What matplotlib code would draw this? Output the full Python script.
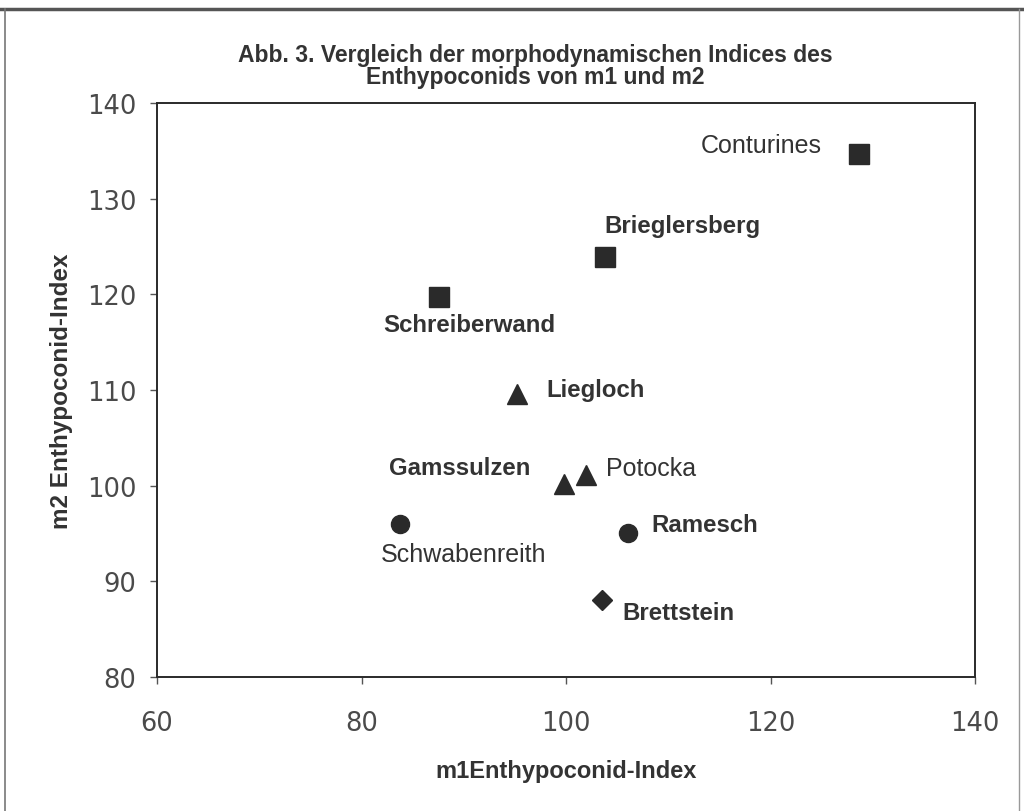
import numpy as np
import matplotlib.pyplot as plt
from matplotlib.lines import Line2D

names = ["Conturines", "Brieglersberg", "Schreiberwand", "Liegloch", "Gamssulzen",
         "Potocka", "Schwabenreith", "Ramesch", "Brettstein"]
m1 = [128.7, 103.8, 87.6, 95.2, 99.8, 102.0, 83.8, 106.1, 103.5]
m2 = [134.7, 123.9, 119.7, 109.6, 100.2, 101.1, 96.0, 95.1, 88.0]
markers = ["s", "s", "s", "^", "^", "^", "o", "o", "D"]
bold = [False, True, True, True, True, False, False, True, True]
# label offsets in points (dx, dy) and alignment
offs = [(-27, 6, "right"), (0, 23, "left"), (-40, -20, "left"), (21, 3, "left"),
        (-24, 12, "right"), (14, 5, "left"), (-14, -22, "left"), (16.5, 6, "left"),
        (15, -8.5, "left")]

ink = "#2a2a2a"
txt = "#333333"
plt.rcParams['font.family'] = ['Liberation Sans', 'DejaVu Sans']

fig = plt.figure(figsize=(10.24, 8.12), dpi=100)
ax = fig.add_axes([157/1024, 1-678/812, (975-157)/1024, (678-104)/812])

sizes = {"s": 15, "^": 15, "o": 13, "D": 10}
for x, y, mk in zip(m1, m2, markers):
    ax.plot(x, y, marker=mk, ms=sizes[mk], color=ink, ls="none")

for n, x, y, b, (dx, dy, ha) in zip(names, m1, m2, bold, offs):
    ax.annotate(n, (x, y), xytext=(dx, dy), textcoords="offset points",
                ha=ha, va="center", fontsize=17.3 if b else 18,
                fontweight="bold" if b else "normal", color=txt)

ax.set_xlim(60, 140)
ax.set_ylim(80, 140)
ax.set_xticks(np.arange(60, 141, 20))
ax.set_yticks(np.arange(80, 141, 10))
ax.tick_params(direction="out", length=5, width=1, colors="#555555",
               labelsize=18.5, labelcolor="#4a4a4a")
ax.tick_params(axis="y", pad=10)
ax.tick_params(axis="x", pad=19)
for lab in ax.get_xticklabels() + ax.get_yticklabels():
    lab.set_family("DejaVu Sans")
for s in ax.spines.values():
    s.set_color(ink)
    s.set_linewidth(1.4)

ax.set_xlabel("m1Enthypoconid-Index", fontsize=17, fontweight="bold",
              color=txt, labelpad=16)
ax.set_ylabel("m2 Enthypoconid-Index", fontsize=17.5, fontweight="bold",
              color=txt, labelpad=10)
fig.text(0.523, 0.918, "Abb. 3. Vergleich der morphodynamischen Indices des\nEnthypoconids von m1 und m2",
         ha="center", va="center", fontsize=16.5, fontweight="bold",
         color=txt, linespacing=0.95)

# page frame from the scan
fig.add_artist(Line2D([0, 1], [1-10/812, 1-10/812], color="#555555", lw=2.5))
fig.add_artist(Line2D([5/1024, 5/1024], [0, 1-10/812], color="#777777", lw=1.2))
fig.add_artist(Line2D([1019/1024, 1019/1024], [0, 1-10/812], color="#999999", lw=1))

fig.savefig("out.png", dpi=100)
